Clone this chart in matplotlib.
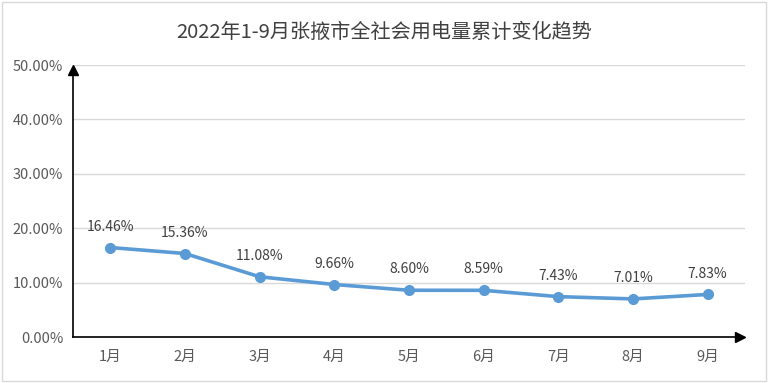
import matplotlib.pyplot as plt
from matplotlib.patches import Rectangle

plt.rcParams['font.family'] = ['Noto Sans CJK SC', 'DejaVu Sans']

months = ['1月', '2月', '3月', '4月', '5月', '6月', '7月', '8月', '9月']
growth = [16.46, 15.36, 11.08, 9.66, 8.60, 8.59, 7.43, 7.01, 7.83]
yticks = [0, 10, 20, 30, 40, 50]

fig = plt.figure(figsize=(7.68, 3.83), dpi=100)
fig.patches.append(Rectangle((0.003, 0.005), 0.994, 0.99, transform=fig.transFigure,
                             fill=False, edgecolor='#d9d9d9', linewidth=1))
ax = fig.add_axes([0.095, 0.12, 0.875, 0.71])

x = list(range(len(months)))
ax.plot(x, growth, color='#5b9bd5', linewidth=2.6, marker='o', markersize=7,
        solid_capstyle='round')
for xi, v in zip(x, growth):
    ax.annotate(f'{v:.2f}%', (xi, v), xytext=(0, 10), textcoords='offset points',
                ha='center', va='bottom', fontsize=10, color='#404040')

ax.set_xlim(-0.5, len(months) - 0.5)
ax.set_ylim(0, 50)
ax.set_xticks(x)
ax.set_xticklabels(months)
ax.set_yticks(yticks)
ax.set_yticklabels([f'{t:.2f}%' for t in yticks])
ax.tick_params(length=0, labelsize=10.5, labelcolor='#595959')
ax.tick_params(axis='x', pad=9)
ax.tick_params(axis='y', pad=7)
ax.grid(axis='y', color='#d9d9d9', linewidth=1)
ax.set_axisbelow(True)
for s in ['top', 'right']:
    ax.spines[s].set_visible(False)
for s in ['left', 'bottom']:
    ax.spines[s].set_color('black')
    ax.spines[s].set_linewidth(1.2)
ax.spines['bottom'].set_bounds(-0.5, len(months) - 0.62)
ax.spines['left'].set_bounds(0, 48.5)

# arrow heads
ax.plot(0.9925, 0, marker='>', color='black', markersize=7, transform=ax.transAxes, clip_on=False)
ax.plot(0, 0.982, marker='^', color='black', markersize=7, transform=ax.transAxes, clip_on=False)

fig.text(0.5, 0.915, '2022年1-9月张掖市全社会用电量累计变化趋势', ha='center', va='center',
         fontsize=14.5, color='#404040')

fig.savefig('out.png', dpi=100)
